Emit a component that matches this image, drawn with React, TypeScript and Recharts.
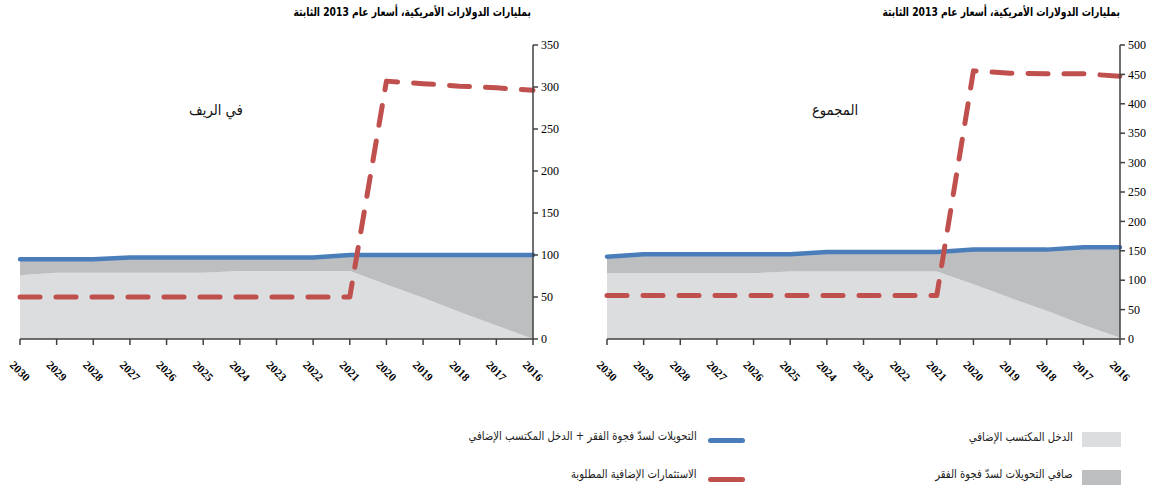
import React from "react";
import { ComposedChart, Area, Line, XAxis, YAxis } from "recharts";

const years = ["2030", "2029", "2028", "2027", "2026", "2025", "2024", "2023", "2022", "2021", "2020", "2019", "2018", "2017", "2016"];

// Rural (في الريف)
const ruralEarned = [76, 79, 79, 79, 79, 79, 81, 81, 81, 81, 65, 49, 32, 16, 0];
const ruralNetTransfers = [19, 16, 16, 18, 18, 18, 16, 16, 16, 19, 35, 51, 68, 84, 100];
const ruralTotal = [95, 95, 95, 97, 97, 97, 97, 97, 97, 100, 100, 100, 100, 100, 100];
const ruralInvestment = [50, 50, 50, 50, 50, 50, 50, 50, 50, 50, 307, 304, 301, 299, 296];
const ruralTicks = [0, 50, 100, 150, 200, 250, 300, 350];

// Total (المجموع)
const allEarned = [112, 112, 112, 112, 112, 115, 115, 115, 115, 115, 93, 70, 48, 24, 2];
const allNetTransfers = [28, 32, 32, 32, 32, 29, 33, 33, 33, 33, 59, 82, 104, 132, 154];
const allTotal = [140, 144, 144, 144, 144, 144, 148, 148, 148, 148, 152, 152, 152, 156, 156];
const allInvestment = [74, 74, 74, 74, 74, 74, 74, 74, 74, 74, 456, 452, 451, 451, 447];
const allTicks = [0, 50, 100, 150, 200, 250, 300, 350, 400, 450, 500];

const titleText = "بمليارات الدولارات الأمريكية، أسعار عام 2013 الثابتة";
const legendEarned = "الدخل المكتسب الإضافي";
const legendNet = "صافي التحويلات لسدّ فجوة الفقر";
const legendTotal = "التحويلات لسدّ فجوة الفقر + الدخل المكتسب الإضافي";
const legendInvest = "الاستثمارات الإضافية المطلوبة";

const LIGHT = "#dcdddf";
const DARK = "#bdbec0";
const BLUE = "#4a7ebb";
const RED = "#c0504d";
const AXIS = "#404040";
const SERIF = "'Liberation Serif', 'DejaVu Serif', serif";
const ARABIC = "'DejaVu Sans', 'Noto Sans', sans-serif";

function build(earned: number[], net: number[], total: number[], inv: number[]) {
  return years.map((y, i) => ({ year: y, earned: earned[i], net: net[i], total: total[i], inv: inv[i] }));
}

const XTick = (props: any) => {
  const { x, y, payload } = props;
  return (
    <g transform={`translate(${x},${y + 24})`}>
      <text
        transform="rotate(45)"
        textAnchor="middle"
        dominantBaseline="central"
        fontFamily={SERIF}
        fontSize={11.5}
        fontWeight="bold"
        fill="#000"
      >
        {payload.value}
      </text>
    </g>
  );
};

const W = 566;
const H = 400;

function Panel({ data, ticks, max }: { data: any[]; ticks: number[]; max: number }) {
  return (
    <ComposedChart width={W} height={H} data={data} margin={{ top: 45, right: 0, bottom: 16, left: 20 }}>
      <XAxis
        dataKey="year"
        scale="point"
        interval={0}
        tick={<XTick />}
        tickSize={6}
        height={45}
        axisLine={{ stroke: AXIS, strokeWidth: 1.5 }}
        tickLine={{ stroke: AXIS, strokeWidth: 1.5 }}
      />
      <YAxis
        orientation="right"
        domain={[0, max]}
        ticks={ticks}
        interval={0}
        width={33}
        tickSize={5}
        tickMargin={3}
        axisLine={{ stroke: AXIS, strokeWidth: 1.5 }}
        tickLine={{ stroke: AXIS, strokeWidth: 1.5 }}
        tick={{ fontFamily: SERIF, fontSize: 12, fill: "#000", textAnchor: "start" }}
      />
      <Area type="linear" dataKey="earned" stackId="a" stroke="none" fill={LIGHT} fillOpacity={1} isAnimationActive={false} />
      <Area type="linear" dataKey="net" stackId="a" stroke="none" fill={DARK} fillOpacity={1} isAnimationActive={false} />
      <Line type="linear" dataKey="total" stroke={BLUE} strokeWidth={4.5} dot={false} strokeLinecap="round" isAnimationActive={false} />
      <Line
        type="linear"
        dataKey="inv"
        stroke={RED}
        strokeWidth={5}
        strokeDasharray="20 16"
        strokeLinecap="round"
        strokeLinejoin="round"
        dot={false}
        isAnimationActive={false}
      />
    </ComposedChart>
  );
}

const abs = (style: React.CSSProperties): React.CSSProperties => ({ position: "absolute", ...style });

export default function App() {
  const rural = build(ruralEarned, ruralNetTransfers, ruralTotal, ruralInvestment);
  const all = build(allEarned, allNetTransfers, allTotal, allInvestment);
  const titleStyle: React.CSSProperties = {
    fontFamily: ARABIC,
    fontWeight: "bold",
    fontSize: 11.5,
    direction: "rtl",
    whiteSpace: "nowrap",
    top: 5,
    color: "#000",
    transform: "scaleX(0.8)",
    transformOrigin: "right center",
  };
  const legText: React.CSSProperties = {
    fontFamily: ARABIC,
    fontSize: 12,
    direction: "rtl",
    whiteSpace: "nowrap",
    color: "#222",
    transform: "translateY(-50%) scaleX(0.84)",
    transformOrigin: "right center",
  };
  const label: React.CSSProperties = {
    top: 110,
    transform: "translate(-50%,-50%) scaleX(0.88)",
    fontFamily: ARABIC,
    fontSize: 15,
    direction: "rtl",
    whiteSpace: "nowrap",
    color: "#111",
  };
  return (
    <div style={{ position: "absolute", left: 0, top: 0, width: 1153, height: 488, overflow: "hidden", background: "#fff" }}>
      <div style={abs({ left: 0, top: 0 })}>
        <Panel data={rural} ticks={ruralTicks} max={350} />
      </div>
      <div style={abs({ left: 587, top: 0 })}>
        <Panel data={all} ticks={allTicks} max={500} />
      </div>
      <div style={abs({ ...titleStyle, right: 1153 - 531 })}>{titleText}</div>
      <div style={abs({ ...titleStyle, right: 1153 - 1120 })}>{titleText}</div>
      <div style={abs({ ...label, left: 216 })}>في الريف</div>
      <div style={abs({ ...label, left: 835 })}>المجموع</div>

      <div style={abs({ left: 1082, top: 432, width: 39, height: 15, background: LIGHT })} />
      <div style={abs({ ...legText, right: 1153 - 1073, top: 437 })}>{legendEarned}</div>
      <div style={abs({ left: 1082, top: 470, width: 39, height: 15, background: DARK })} />
      <div style={abs({ ...legText, right: 1153 - 1073, top: 474 })}>{legendNet}</div>

      <div style={abs({ left: 708, top: 438, width: 37, height: 5, borderRadius: 3, background: BLUE })} />
      <div style={abs({ ...legText, right: 1153 - 697, top: 436 })}>{legendTotal}</div>
      <div style={abs({ left: 708, top: 477, width: 37, height: 5, borderRadius: 3, background: RED })} />
      <div style={abs({ ...legText, right: 1153 - 697, top: 474 })}>{legendInvest}</div>
    </div>
  );
}
